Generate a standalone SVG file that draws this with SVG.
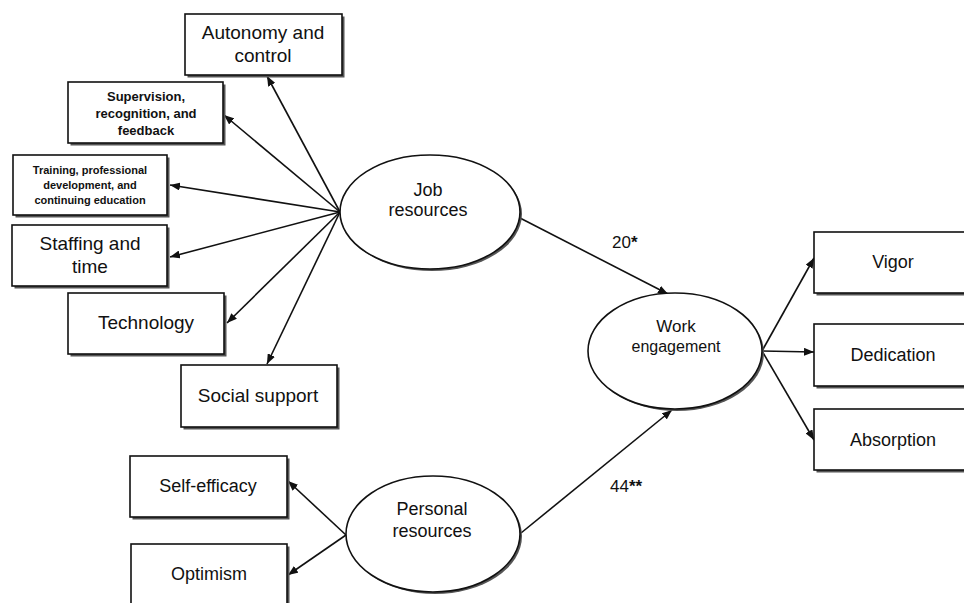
<svg xmlns="http://www.w3.org/2000/svg" width="964" height="603" viewBox="0 0 964 603">
<defs>
<marker id="arr" viewBox="0 0 10 8" refX="10" refY="4" markerWidth="10" markerHeight="8" markerUnits="userSpaceOnUse" orient="auto">
<path d="M0,0 L10,4 L0,8 z" fill="#111"/>
</marker>
</defs>
<style>
.box{fill:#fff;stroke:#111;stroke-width:1.6}
.sh{fill:#555;stroke:none}
.ell{fill:#fff;stroke:#111;stroke-width:1.6}
.t{font-family:"Liberation Sans",Arial,sans-serif;fill:#111;text-anchor:middle}
.big{font-size:19px}
.mid{font-size:18px}
.sm{font-size:13px;font-weight:bold}
.xs{font-size:11px;font-weight:bold}
.lbl{font-family:"Liberation Sans",Arial,sans-serif;fill:#111;font-size:17px}
.c line{stroke:#111;stroke-width:1.6;marker-end:url(#arr)}
</style>
<rect width="964" height="603" fill="#fff"/>

<g class="c" id="connectors">
<line x1="340" y1="212" x2="267" y2="76"/>
<line x1="340" y1="212" x2="224" y2="115"/>
<line x1="340" y1="212" x2="170" y2="185"/>
<line x1="340" y1="212" x2="170" y2="257"/>
<line x1="340" y1="212" x2="227" y2="323"/>
<line x1="340" y1="212" x2="267" y2="364"/>
<line x1="520" y1="218" x2="668" y2="294"/>
<line x1="521" y1="533" x2="672" y2="410"/>
<line x1="346" y1="535" x2="288" y2="481"/>
<line x1="346" y1="535" x2="288" y2="575"/>
<line x1="762" y1="351" x2="814" y2="258"/>
<line x1="762" y1="351" x2="814" y2="352"/>
<line x1="762" y1="351" x2="814" y2="440"/>
<text class="lbl" x="612" y="248">20<tspan font-weight="bold">*</tspan></text>
<text class="lbl" x="610" y="492">44<tspan font-weight="bold">**</tspan></text>
</g>

<g id="autonomy">
<rect class="sh" x="187.5" y="16.5" width="157" height="61"/>
<rect class="box" x="185" y="14" width="157" height="61"/>
<text class="t big" x="263" y="39">Autonomy and</text>
<text class="t big" x="263" y="62">control</text>
</g>
<g id="supervision">
<rect class="sh" x="70.5" y="84.5" width="155" height="61"/>
<rect class="box" x="68" y="82" width="155" height="61"/>
<text class="t sm" x="146" y="101">Supervision,</text>
<text class="t sm" x="146" y="118">recognition, and</text>
<text class="t sm" x="146" y="135">feedback</text>
</g>
<g id="training">
<rect class="sh" x="15.5" y="157.5" width="154" height="60"/>
<rect class="box" x="13" y="155" width="154" height="60"/>
<text class="t xs" x="90" y="174">Training, professional</text>
<text class="t xs" x="90" y="189">development, and</text>
<text class="t xs" x="90" y="204">continuing education</text>
</g>
<g id="staffing">
<rect class="sh" x="14.5" y="227.5" width="155" height="61"/>
<rect class="box" x="12" y="225" width="155" height="61"/>
<text class="t big" x="90" y="250">Staffing and</text>
<text class="t big" x="90" y="273">time</text>
</g>
<g id="technology">
<rect class="sh" x="70.5" y="295.5" width="156" height="61"/>
<rect class="box" x="68" y="293" width="156" height="61"/>
<text class="t big" x="146" y="329">Technology</text>
</g>
<g id="social">
<rect class="sh" x="183.5" y="367.5" width="156" height="62"/>
<rect class="box" x="181" y="365" width="156" height="62"/>
<text class="t big" x="258" y="402">Social support</text>
</g>
<g id="selfefficacy">
<rect class="sh" x="132.5" y="458.5" width="157" height="61"/>
<rect class="box" x="130" y="456" width="157" height="61"/>
<text class="t mid" x="208" y="492">Self-efficacy</text>
</g>
<g id="optimism">
<rect class="sh" x="133.5" y="546.5" width="156" height="70"/>
<rect class="box" x="131" y="544" width="156" height="70"/>
<text class="t mid" x="209" y="580">Optimism</text>
</g>
<g id="vigor">
<rect class="sh" x="816.5" y="234.5" width="158" height="61"/>
<rect class="box" x="814" y="232" width="158" height="61"/>
<text class="t mid" x="893" y="268">Vigor</text>
</g>
<g id="dedication">
<rect class="sh" x="816.5" y="326.5" width="158" height="62"/>
<rect class="box" x="814" y="324" width="158" height="62"/>
<text class="t mid" x="893" y="361">Dedication</text>
</g>
<g id="absorption">
<rect class="sh" x="816.5" y="411.5" width="158" height="61"/>
<rect class="box" x="814" y="409" width="158" height="61"/>
<text class="t mid" x="893" y="446">Absorption</text>
</g>

<g id="job">
<ellipse class="sh" cx="432" cy="214" rx="90" ry="57"/>
<ellipse class="ell" cx="430" cy="212" rx="90" ry="57"/>
<text class="t mid" x="428" y="196">Job</text>
<text class="t mid" x="428" y="216">resources</text>
</g>
<g id="work">
<ellipse class="sh" cx="677" cy="353" rx="87" ry="58"/>
<ellipse class="ell" cx="675" cy="351" rx="87" ry="58"/>
<text class="t" style="font-size:17px" x="676" y="332">Work</text>
<text class="t" style="font-size:16px" x="676" y="352">engagement</text>
</g>
<g id="personal">
<ellipse class="sh" cx="435" cy="536" rx="87" ry="58"/>
<ellipse class="ell" cx="433" cy="534" rx="87" ry="58"/>
<text class="t mid" x="432" y="515">Personal</text>
<text class="t mid" x="432" y="537">resources</text>
</g>
</svg>
